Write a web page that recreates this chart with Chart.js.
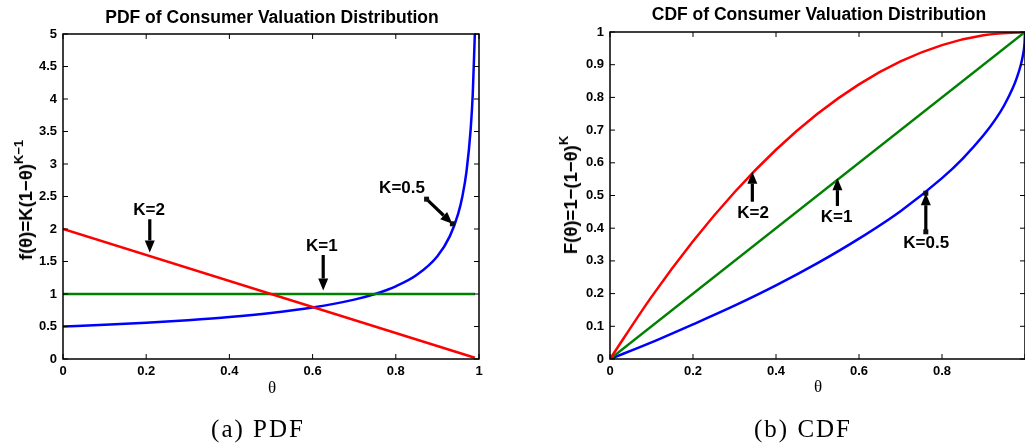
<!DOCTYPE html>
<html>
<head>
<meta charset="utf-8">
<script src="https://cdn.jsdelivr.net/npm/chart.js@4"></script>
<style>
  html, body { margin: 0; padding: 0; background: #fff; }
  #wrap { position: relative; width: 1025px; height: 447px; overflow: hidden; }
  .box { position: absolute; top: 0; }
  .t { position: absolute; color: #000; white-space: nowrap; transform: translate(-50%, -50%); font-family: "Liberation Sans", Arial, sans-serif; font-weight: bold; }
  .title { font-size: 17.5px; }
  .ylab { font-size: 18.5px; transform: translate(-50%, -50%) rotate(-90deg); }
  .ylab .sup { font-size: 13px; position: relative; top: -9px; }
  .xlab { font-family: "Liberation Serif", "Times New Roman", serif; font-weight: normal; font-size: 17px; }
  .cap { font-family: "Liberation Serif", "Times New Roman", serif; font-weight: normal; font-size: 25px; letter-spacing: 2px; }
</style>
</head>
<body>
<div id="wrap">
  <div class="box" style="left:0;"><canvas id="pdfChart" width="500" height="385"></canvas></div>
  <div class="box" style="left:525px;"><canvas id="cdfChart" width="510" height="385"></canvas></div>

  <div class="t title" style="left:272px; top:17px;">PDF of Consumer Valuation Distribution</div>
  <div class="t title" style="left:819px; top:14px;">CDF of Consumer Valuation Distribution</div>

  <div class="t ylab" style="left:26px; top:200px;">f(θ)=K(1−θ)<span class="sup">K−1</span></div>
  <div class="t ylab" style="left:571px; top:195px;">F(θ)=1−(1−θ)<span class="sup">K</span></div>

  <div class="t xlab" style="left:272px; top:388px;">θ</div>
  <div class="t xlab" style="left:818px; top:387px;">θ</div>

  <div class="t cap" style="left:258px; top:429px;">(a) PDF</div>
  <div class="t cap" style="left:803px; top:429px;">(b) CDF</div>
</div>

<script>
// tick values and labels
const xTicks = [0, 0.2, 0.4, 0.6, 0.8, 1];
const pdfXLabels = ['0', '0.2', '0.4', '0.6', '0.8', '1'];
const cdfXLabels = ['0', '0.2', '0.4', '0.6', '0.8', ''];
const pdfYTicks = [0, 0.5, 1, 1.5, 2, 2.5, 3, 3.5, 4, 4.5, 5];
const pdfYLabels = ['0', '0.5', '1', '1.5', '2', '2.5', '3', '3.5', '4', '4.5', '5'];
const cdfYTicks = [0, 0.1, 0.2, 0.3, 0.4, 0.5, 0.6, 0.7, 0.8, 0.9, 1];
const cdfYLabels = ['0', '0.1', '0.2', '0.3', '0.4', '0.5', '0.6', '0.7', '0.8', '0.9', '1'];

// PDF curves
const pdfK2Theta = [0, 0.99];
const pdfK2 = [2, 0.02];
const pdfK1Theta = [0, 0.99];
const pdfK1 = [1, 1];
const pdfK05Theta = [0, 0.1, 0.2, 0.3, 0.4, 0.5, 0.6, 0.7, 0.75, 0.8, 0.85, 0.9, 0.93, 0.95, 0.96, 0.97, 0.98, 0.985, 0.99];
const pdfK05 = [0.5, 0.527, 0.559, 0.598, 0.645, 0.707, 0.791, 0.913, 1.0, 1.118, 1.291, 1.581, 1.89, 2.236, 2.5, 2.887, 3.536, 4.08, 5.0];

// CDF curves
const cdfK2Theta = [0, 0.1, 0.2, 0.3, 0.4, 0.5, 0.6, 0.7, 0.8, 0.9, 1];
const cdfK2 = [0, 0.19, 0.36, 0.51, 0.64, 0.75, 0.84, 0.91, 0.96, 0.99, 1];
const cdfK1Theta = [0, 1];
const cdfK1 = [0, 1];
const cdfK05Theta = [0, 0.1, 0.2, 0.3, 0.4, 0.5, 0.6, 0.7, 0.8, 0.85, 0.9, 0.93, 0.95, 0.97, 0.98, 0.99, 0.995, 0.999, 1];
const cdfK05 = [0, 0.051, 0.106, 0.163, 0.225, 0.293, 0.368, 0.452, 0.553, 0.613, 0.684, 0.735, 0.776, 0.827, 0.859, 0.9, 0.929, 0.968, 1];

// arrow annotations, in data coordinates
const pdfNotes = [
  { text: 'K=2', at: [0.207, 2.29], from: [0.2086, 2.15], to: [0.2086, 1.64] },
  { text: 'K=1', at: [0.622, 1.73], from: [0.6255, 1.60], to: [0.6255, 1.054] },
  { text: 'K=0.5', at: [0.815, 2.62], from: [0.874, 2.459], to: [0.936, 2.08], squares: true }
];
const cdfNotes = [
  { text: 'K=2', at: [0.345, 0.445], from: [0.343, 0.481], to: [0.343, 0.573] },
  { text: 'K=1', at: [0.546, 0.433], from: [0.548, 0.468], to: [0.548, 0.553] },
  { text: 'K=0.5', at: [0.762, 0.355], from: [0.761, 0.389], to: [0.761, 0.507], squares: true }
];

const RED = '#ff0000', GREEN = '#008000', BLUE = '#0000ff';
const tickFont = { family: '"Liberation Sans", Arial, sans-serif', size: 13, weight: 'bold' };

function pts(xs, ys) {
  return xs.map((x, i) => ({ x: x, y: ys[i] }));
}

function drawArrow(ctx, x1, y1, x2, y2) {
  const ang = Math.atan2(y2 - y1, x2 - x1);
  const hl = 12, hw = 5;
  const bx = x2 - hl * Math.cos(ang), by = y2 - hl * Math.sin(ang);
  ctx.lineWidth = 3.2;
  ctx.beginPath();
  ctx.moveTo(x1, y1);
  ctx.lineTo(bx, by);
  ctx.stroke();
  ctx.beginPath();
  ctx.moveTo(x2, y2);
  ctx.lineTo(bx + hw * Math.sin(ang), by - hw * Math.cos(ang));
  ctx.lineTo(bx - hw * Math.sin(ang), by + hw * Math.cos(ang));
  ctx.closePath();
  ctx.fill();
}

const framePlugin = {
  id: 'frame',
  afterDraw(chart, args, opts) {
    const { ctx, chartArea: a, scales: { x, y } } = chart;
    ctx.save();
    ctx.strokeStyle = '#000';
    ctx.fillStyle = '#000';
    // inward ticks on all four sides
    ctx.lineWidth = 1;
    ctx.beginPath();
    x.ticks.forEach(t => {
      const px = x.getPixelForValue(t.value);
      ctx.moveTo(px, a.bottom); ctx.lineTo(px, a.bottom - 5);
      ctx.moveTo(px, a.top); ctx.lineTo(px, a.top + 5);
    });
    y.ticks.forEach(t => {
      const py = y.getPixelForValue(t.value);
      ctx.moveTo(a.left, py); ctx.lineTo(a.left + 5, py);
      ctx.moveTo(a.right, py); ctx.lineTo(a.right - 5, py);
    });
    ctx.stroke();
    ctx.lineWidth = 1.5;
    ctx.strokeRect(a.left, a.top, a.right - a.left, a.bottom - a.top);

    // annotations
    ctx.font = 'bold 17px "Liberation Sans", Arial, sans-serif';
    ctx.textAlign = 'center';
    ctx.textBaseline = 'middle';
    (opts.notes || []).forEach(n => {
      const x1 = x.getPixelForValue(n.from[0]), y1 = y.getPixelForValue(n.from[1]);
      const x2 = x.getPixelForValue(n.to[0]), y2 = y.getPixelForValue(n.to[1]);
      drawArrow(ctx, x1, y1, x2, y2);
      if (n.squares) {
        ctx.fillStyle = '#111';
        ctx.fillRect(x1 - 2.5, y1 - 2.5, 5, 5);
        ctx.fillRect(x2 - 2.5, y2 - 2.5, 5, 5);
        ctx.fillStyle = '#000';
      }
      ctx.fillText(n.text, x.getPixelForValue(n.at[0]), y.getPixelForValue(n.at[1]));
    });
    ctx.restore();
  }
};

function line(data, color) {
  return {
    data: data,
    borderColor: color,
    borderWidth: 2.5,
    pointRadius: 0,
    fill: false,
    cubicInterpolationMode: 'monotone'
  };
}

function makeChart(id, datasets, cfg) {
  return new Chart(document.getElementById(id), {
    type: 'line',
    data: { datasets: datasets },
    options: {
      responsive: false,
      animation: false,
      layout: { padding: cfg.padding },
      plugins: {
        legend: { display: false },
        tooltip: { enabled: false },
        frame: { notes: cfg.notes }
      },
      scales: {
        x: {
          type: 'linear', min: 0, max: 1,
          afterBuildTicks: s => { s.ticks = xTicks.map(v => ({ value: v })); },
          afterFit: s => { s.height = 24; },
          grid: { display: false, drawTicks: false },
          border: { display: false },
          ticks: {
            color: '#000', font: tickFont, padding: 5, maxRotation: 0, autoSkip: false,
            callback: (v, i) => cfg.xLabels[i]
          }
        },
        y: {
          type: 'linear', min: 0, max: cfg.yMax,
          afterBuildTicks: s => { s.ticks = cfg.yTicks.map(v => ({ value: v })); },
          afterFit: s => { s.width = cfg.yWidth; },
          grid: { display: false, drawTicks: false },
          border: { display: false },
          ticks: {
            color: '#000', font: tickFont, padding: 6, autoSkip: false,
            callback: (v, i) => cfg.yLabels[i]
          }
        }
      }
    },
    plugins: [framePlugin]
  });
}

makeChart('pdfChart', [
  line(pts(pdfK2Theta, pdfK2), RED),
  line(pts(pdfK1Theta, pdfK1), GREEN),
  line(pts(pdfK05Theta, pdfK05), BLUE)
], {
  padding: { left: 0, top: 34, right: 21, bottom: 2 },
  yWidth: 63, yMax: 5, yTicks: pdfYTicks, yLabels: pdfYLabels, xLabels: pdfXLabels, notes: pdfNotes
});

makeChart('cdfChart', [
  line(pts(cdfK2Theta, cdfK2), RED),
  line(pts(cdfK1Theta, cdfK1), GREEN),
  line(pts(cdfK05Theta, cdfK05), BLUE)
], {
  padding: { left: 0, top: 32, right: 10, bottom: 2 },
  yWidth: 85, yMax: 1, yTicks: cdfYTicks, yLabels: cdfYLabels, xLabels: cdfXLabels, notes: cdfNotes
});
</script>
</body>
</html>
